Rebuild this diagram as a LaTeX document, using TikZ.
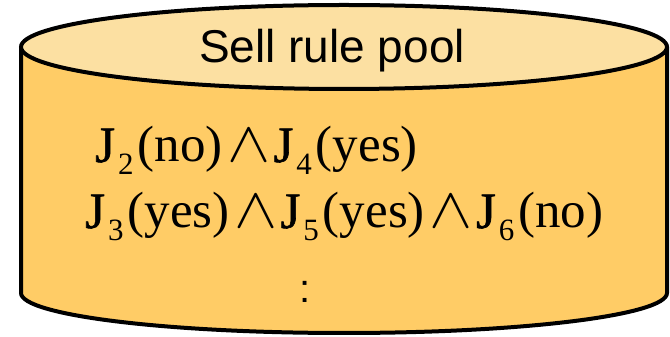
\documentclass[tikz,border=0pt]{standalone}
\usepackage{fontspec}
\setmainfont{Liberation Serif}
\newfontfamily\arialfont{Liberation Sans}
\newfontfamily\jfont[FakeBold=1.2]{Liberation Serif}
\definecolor{topfill}{RGB}{252,224,162}
\definecolor{bodyfill}{RGB}{255,204,102}
\tikzset{
  rim/.style={line width=4pt, draw=black},
  formula/.style={inner sep=0pt, anchor=base west, font=\fontsize{51}{55}\selectfont},
}
\newcommand{\Jsub}[1]{{\jfont J}\kern3pt\raisebox{-13pt}{\fontsize{31}{33}\selectfont #1}\kern4pt}
\newcommand{\andsym}{\kern5pt\scalebox{2.6}[2.3]{$\wedge$}\kern3pt}
\begin{document}
\begin{tikzpicture}[x=1pt,y=1pt]
\useasboundingbox (0,0) rectangle (670,337);
% body
\fill[bodyfill] (21,290) -- (21,44) arc[start angle=180,end angle=360,x radius=323,y radius=40] -- (667,290) -- cycle;
\draw[rim] (21,290) -- (21,44) arc[start angle=180,end angle=360,x radius=323,y radius=40] -- (667,290);
% top ellipse
\draw[rim, fill=topfill] (344,290) ellipse[x radius=323, y radius=42];
\node[inner sep=0pt, anchor=base, font=\arialfont\fontsize{46}{50}\selectfont] (title) at (332,274) {Sell rule pool};
\node[formula] (rule1) at (95,175) {\Jsub{2}(no)\andsym\Jsub{4}(yes)};
\node[formula] (rule2) at (85,109) {\Jsub{3}(yes)\andsym\Jsub{5}(yes)\andsym\Jsub{6}(no)};
\node[inner sep=0pt, anchor=base, font=\arialfont\fontsize{40}{44}\selectfont] (dots) at (305,34) {:};
\end{tikzpicture}
\end{document}
